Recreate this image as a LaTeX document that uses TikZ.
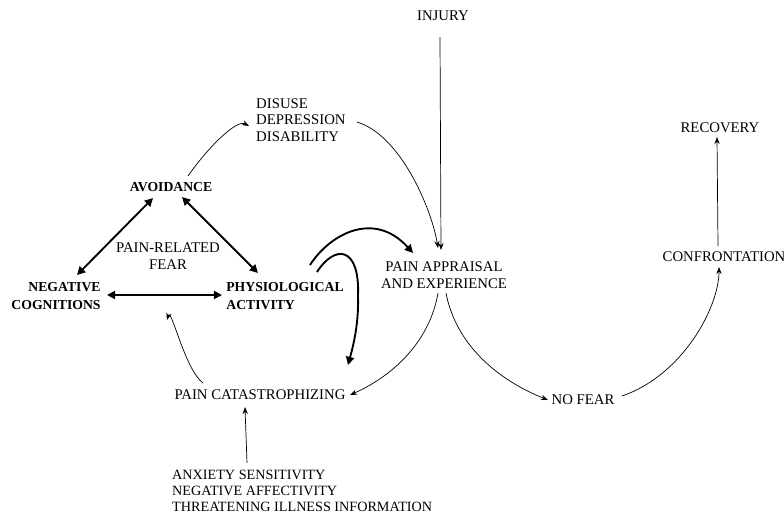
\documentclass[tikz,border=0pt]{standalone}
\usepackage{fontspec}
\setmainfont{Liberation Serif}
\usetikzlibrary{arrows.meta,calc}
\begin{document}
\begin{tikzpicture}[x=0.03cm,y=-0.03cm,
  lbl/.style={inner sep=0pt,font=\fontsize{12.6}{14}\selectfont},
  blbl/.style={inner sep=0pt,font=\fontsize{11.7}{15}\selectfont\bfseries},
  thin/.style={line width=0.6pt,-{Stealth[length=6pt,width=4.5pt]}},
  thick/.style={line width=1.6pt,-{Triangle[length=7pt,width=7pt]}},
  thickboth/.style={line width=1.6pt,{Triangle[length=7pt,width=7pt]}-{Triangle[length=7pt,width=7pt]}}]
\useasboundingbox (0,0) rectangle (784,527);
% nodes
\node[lbl] (injury) at (443,16) {INJURY};
\node[lbl,align=center] (appr) at (444,275) {PAIN APPRAISAL\\AND EXPERIENCE};
\node[lbl,align=left,anchor=west] (disuse) at (256,120) {DISUSE\\DEPRESSION\\DISABILITY};
\node[blbl] (avoid) at (171,187) {AVOIDANCE};
\node[blbl,align=right] (neg) at (56,296) {NEGATIVE\\COGNITIONS};
\node[blbl,align=left] (phys) at (285,296) {PHYSIOLOGICAL\\ACTIVITY};
\node[lbl,align=center] (fear) at (168,256) {PAIN-RELATED\\FEAR};
\node[lbl] (catas) at (260,395) {PAIN CATASTROPHIZING};
\node[lbl,align=left,anchor=west,font=\fontsize{12.1}{13.8}\selectfont] (anx) at (172,491) {ANXIETY SENSITIVITY\\NEGATIVE AFFECTIVITY\\THREATENING ILLNESS INFORMATION};
\node[lbl] (nofear) at (583,400) {NO FEAR};
\node[lbl] (conf) at (724,257) {CONFRONTATION};
\node[lbl] (rec) at (720,128) {RECOVERY};
% thin connectors
\draw[thin] ($(injury)+(-3,21)$) -- ($(appr)+(-3,-25)$);
\draw[thin] ($(avoid)+(17,-11)$) .. controls ($(avoid)+(35,-37)$) and ($(disuse.west)+(-20,-1)$) .. ($(disuse.west)+(-7,6)$);
\draw[thin] ($(disuse.east)+(11,2)$) .. controls ($(disuse.east)+(55,15)$) and ($(appr)+(-12,-65)$) .. ($(appr)+(-6,-27)$);
\draw[thin] ($(appr)+(-6,18)$) .. controls ($(appr)+(-14,65)$) and ($(catas)+(135,-20)$) .. ($(catas)+(90,0)$);
\draw[thin] ($(appr)+(2,18)$) .. controls ($(appr)+(12,70)$) and ($(nofear)+(-85,-20)$) .. ($(nofear)+(-35,0)$);
\draw[thin] ($(nofear)+(39,-4)$) .. controls ($(nofear)+(100,-25)$) and ($(conf)+(-5,50)$) .. ($(conf)+(-5,10)$);
\draw[thin] ($(conf)+(-6,-11)$) -- ($(rec)+(-3,9)$);
\draw[thin] ($(anx.west)+(75,-28)$) -- ($(catas)+(-15,12)$);
\draw[thin] ($(catas)+(-57,-12)$) .. controls ($(catas)+(-75,-25)$) and ($(neg)+(115,10)$) .. ($(neg)+(111,24)$);
% thick connectors
\draw[thickboth] ($(neg)+(21,-21)$) -- ($(avoid)+(-18,11)$);
\draw[thickboth] ($(avoid)+(11,10)$) -- ($(phys)+(-27,-23)$);
\draw[thickboth] ($(neg)+(51,-1)$) -- ($(phys)+(-63,-1)$);
\draw[thick] ($(phys)+(25,-31)$) .. controls ($(phys)+(45,-62)$) and ($(appr)+(-70,-65)$) .. ($(appr)+(-31,-22)$);
\draw[thick] ($(phys)+(32,-24)$) .. controls ($(phys)+(50,-52)$) and ($(phys)+(75,-50)$) .. ($(phys)+(73,0)$) .. controls ($(phys)+(74,30)$) and ($(catas)+(92,-45)$) .. ($(catas)+(88,-30)$);
\end{tikzpicture}
\end{document}
